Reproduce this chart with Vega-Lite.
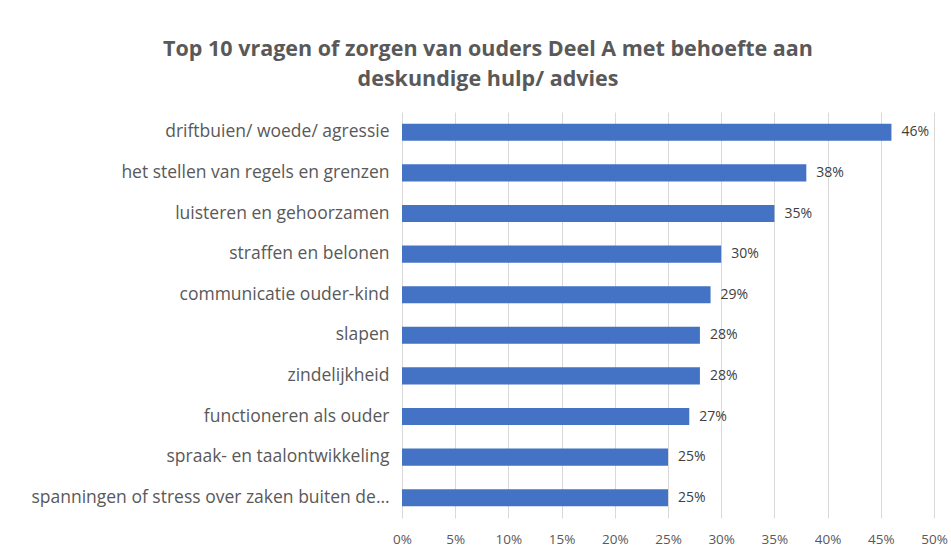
{
  "$schema": "https://vega.github.io/schema/vega-lite/v6.json",
  "autosize": {"type": "none"},
  "width": 532,
  "height": 406,
  "padding": {"left": 402, "top": 112, "right": 17, "bottom": 38},
  "background": "white",
  "title": {
    "text": ["Top 10 vragen of zorgen van ouders Deel A met behoefte aan", "deskundige hulp/ advies"],
    "anchor": "middle",
    "dx": -180,
    "offset": 22,
    "font": "Open Sans",
    "fontSize": 21.5,
    "fontWeight": "bold",
    "color": "#595959",
    "lineHeight": 30
  },
  "data": {
    "values": [
      {"vraag": "driftbuien/ woede/ agressie", "pct": 0.46},
      {"vraag": "het stellen van regels en grenzen", "pct": 0.38},
      {"vraag": "luisteren en gehoorzamen", "pct": 0.35},
      {"vraag": "straffen en belonen", "pct": 0.30},
      {"vraag": "communicatie ouder-kind", "pct": 0.29},
      {"vraag": "slapen ", "pct": 0.28},
      {"vraag": "zindelijkheid ", "pct": 0.28},
      {"vraag": "functioneren als ouder", "pct": 0.27},
      {"vraag": "spraak- en taalontwikkeling", "pct": 0.25},
      {"vraag": "spanningen of stress over zaken buiten de…", "pct": 0.25}
    ]
  },
  "encoding": {
    "y": {
      "field": "vraag",
      "type": "nominal",
      "sort": null,
      "scale": {"paddingInner": 0.58, "paddingOuter": 0.29},
      "axis": {
        "title": null,
        "domain": false,
        "ticks": false,
        "labelFont": "Open Sans",
        "labelFontSize": 17.5,
        "labelColor": "#595959",
        "labelPadding": 13,
        "labelLimit": 400
      }
    },
    "x": {
      "field": "pct",
      "type": "quantitative",
      "scale": {"domain": [0, 0.5]},
      "axis": {
        "title": null,
        "format": ".0%",
        "values": [0, 0.05, 0.1, 0.15, 0.2, 0.25, 0.3, 0.35, 0.4, 0.45, 0.5],
        "labelOverlap": false,
        "labelFlush": false,
        "domain": false,
        "ticks": false,
        "grid": true,
        "gridColor": "#d9d9d9",
        "gridWidth": 1,
        "labelFont": "Open Sans",
        "labelFontSize": 13.5,
        "labelColor": "#595959",
        "labelPadding": 14
      }
    }
  },
  "layer": [
    {"mark": {"type": "bar", "color": "#4472C4"}},
    {
      "mark": {"type": "text", "align": "left", "dx": 10, "font": "Open Sans", "fontSize": 14, "color": "#404040"},
      "encoding": {"text": {"field": "pct", "type": "quantitative", "format": ".0%"}}
    }
  ],
  "config": {"view": {"stroke": null}}
}
